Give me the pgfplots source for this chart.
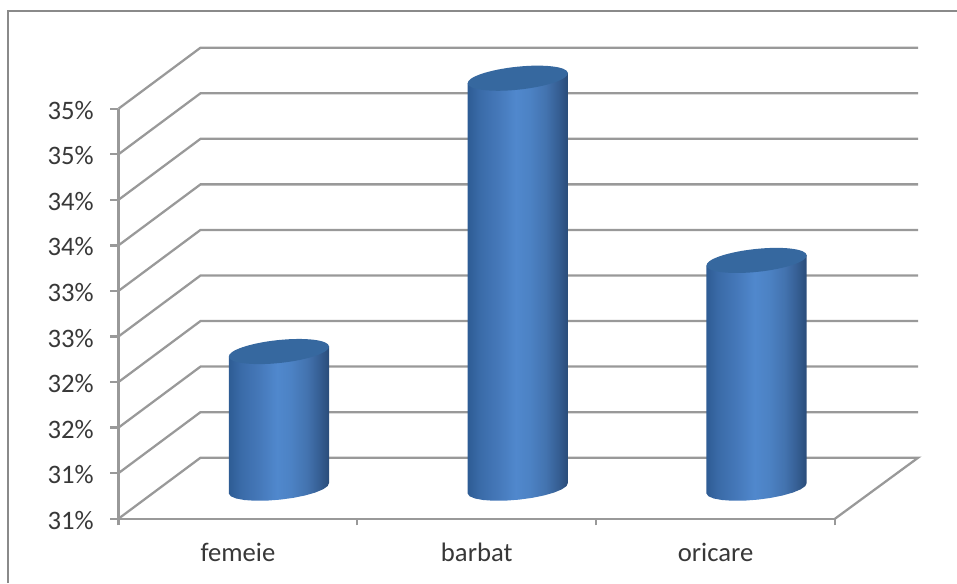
\documentclass[border=0pt]{standalone}
\usepackage{pgfplots}
\pgfplotsset{compat=1.18}
\usepackage{fontspec}
\setmainfont{Carlito}

\definecolor{wallgray}{HTML}{999999}
\definecolor{framegray}{HTML}{8A8A8A}
\definecolor{labelgray}{HTML}{383838}
\definecolor{capblue}{HTML}{36689F}
\definecolor{cyla}{HTML}{2E5C94}
\definecolor{cylb}{HTML}{3A6BA8}
\definecolor{cylc}{HTML}{4578B9}
\definecolor{cyld}{HTML}{5088CD}
\definecolor{cyle}{HTML}{4C82C4}
\definecolor{cylf}{HTML}{4373AF}
\definecolor{cylg}{HTML}{365F94}
\definecolor{cylh}{HTML}{2A4C79}

% Cylinder body: dark flank, bright centre, darker far flank.
% TikZ fits the 25bp to 75bp span of a shading to the width of the path.
\pgfdeclarehorizontalshading{cylbody}{100bp}{
  color(0bp)=(cyla);
  color(25bp)=(cyla);
  color(31bp)=(cylb);
  color(40bp)=(cylc);
  color(49bp)=(cyld);
  color(56bp)=(cyle);
  color(64bp)=(cylf);
  color(70bp)=(cylg);
  color(75bp)=(cylh);
  color(100bp)=(cylh)
}

% Tilted elliptical lid of a cylinder
\pgfdeclareplotmark{cylcap}{%
  \pgfpathellipse{\pgfpointorigin}{\pgfqpointpolar{6}{37.8pt}}{\pgfqpointpolar{96}{8.6pt}}%
  \pgfusepathqfill}

\begin{document}
\begin{tikzpicture}[x=1pt,y=1pt]
\path[use as bounding box] (0,0) rectangle (717.75,437.25);
% Outer chart frame
\draw[framegray,line width=1.3pt] (6,0) -- (6,429) -- (717.75,429);

\begin{axis}[
  at={(88.875pt,48.225pt)}, anchor=south west,
  scale only axis, width=537.375pt, height=307.5pt,
  xmin=-0.5, xmax=2.5, ymin=30.5, ymax=35,
  clip=false,
  axis x line*=bottom, axis y line*=left,
  axis line style={wallgray,line width=1.7pt},
  xtick={0,1,2}, xticklabels={femeie,barbat,oricare},
  minor xtick={-0.5,0.5,1.5,2.5},
  ytick={30.5,31,31.5,32,32.5,33,33.5,34,34.5,35},
  major x tick style={draw=none},
  minor x tick style={wallgray,line width=1.7pt},
  minor tick length=5pt,
  major y tick style={wallgray,line width=1.7pt},
  major tick length=6pt,
  tick align=outside,
  yticklabel={\pgfmathprintnumber[fixed,precision=0,assume math mode=true]{\tick}\%},
  ticklabel style={font=\fontsize{20}{22}\selectfont,text=labelgray},
  y tick label style={xshift=-9pt,yshift=-1.2pt},
  x tick label style={yshift=-9pt},
]
% Side wall and back wall rules, one for each level
\addplot[wallgray,line width=1.7pt] coordinates {(2.5,30.5) (2.848,31.1695) (-0.1566,31.1695) (-0.5,30.5)};
\addplot[wallgray,line width=1.7pt] coordinates {(-0.5,31) (-0.1566,31.6695) (2.848,31.6695)};
\addplot[wallgray,line width=1.7pt] coordinates {(-0.5,31.5) (-0.1566,32.1695) (2.848,32.1695)};
\addplot[wallgray,line width=1.7pt] coordinates {(-0.5,32) (-0.1566,32.6695) (2.848,32.6695)};
\addplot[wallgray,line width=1.7pt] coordinates {(-0.5,32.5) (-0.1566,33.1695) (2.848,33.1695)};
\addplot[wallgray,line width=1.7pt] coordinates {(-0.5,33) (-0.1566,33.6695) (2.848,33.6695)};
\addplot[wallgray,line width=1.7pt] coordinates {(-0.5,33.5) (-0.1566,34.1695) (2.848,34.1695)};
\addplot[wallgray,line width=1.7pt] coordinates {(-0.5,34) (-0.1566,34.6695) (2.848,34.6695)};
\addplot[wallgray,line width=1.7pt] coordinates {(-0.5,34.5) (-0.1566,35.1695) (2.848,35.1695)};
\addplot[wallgray,line width=1.7pt] coordinates {(-0.5,35) (-0.1566,35.6695) (2.848,35.6695)};
\end{axis}

% Cylinders stand half way into the floor, so this axis is offset by half the depth
\begin{axis}[
  at={(119.625pt,71.1pt)}, anchor=south west,
  scale only axis, width=537.375pt, height=307.5pt,
  xmin=-0.5, xmax=2.5, ymin=30.5, ymax=35,
  clip=false, hide axis,
]
\addplot[draw=none,shade,shading=cylbody] coordinates {
  (-0.2099,31.9422) (-0.2099,30.4422) (-0.2015,30.4116) (-0.1792,30.3872) (-0.1448,30.3703)
  (-0.1006,30.3623) (-0.0495,30.3638) (0.0050,30.3744) (0.0592,30.3936) (0.1093,30.4202)
  (0.1520,30.4521) (0.1843,30.4873) (0.2041,30.5234) (0.2099,30.5578) (0.2099,32.0578)} --cycle;
\addplot[draw=none,shade,shading=cylbody] coordinates {
  (0.7901,34.9422) (0.7901,30.4422) (0.7985,30.4116) (0.8208,30.3872) (0.8552,30.3703)
  (0.8994,30.3623) (0.9505,30.3638) (1.0050,30.3744) (1.0592,30.3936) (1.1093,30.4202)
  (1.1520,30.4521) (1.1843,30.4873) (1.2041,30.5234) (1.2099,30.5578) (1.2099,35.0578)} --cycle;
\addplot[draw=none,shade,shading=cylbody] coordinates {
  (1.7901,32.9422) (1.7901,30.4422) (1.7985,30.4116) (1.8208,30.3872) (1.8552,30.3703)
  (1.8994,30.3623) (1.9505,30.3638) (2.0050,30.3744) (2.0592,30.3936) (2.1093,30.4202)
  (2.1520,30.4521) (2.1843,30.4873) (2.2041,30.5234) (2.2099,30.5578) (2.2099,33.0578)} --cycle;
% Lids, centred on each value
\addplot[only marks,mark=cylcap,mark options={fill=capblue,draw=none},color=capblue,fill=capblue]
  coordinates {(0,32) (1,35) (2,33)};
\end{axis}
\end{tikzpicture}
\end{document}
